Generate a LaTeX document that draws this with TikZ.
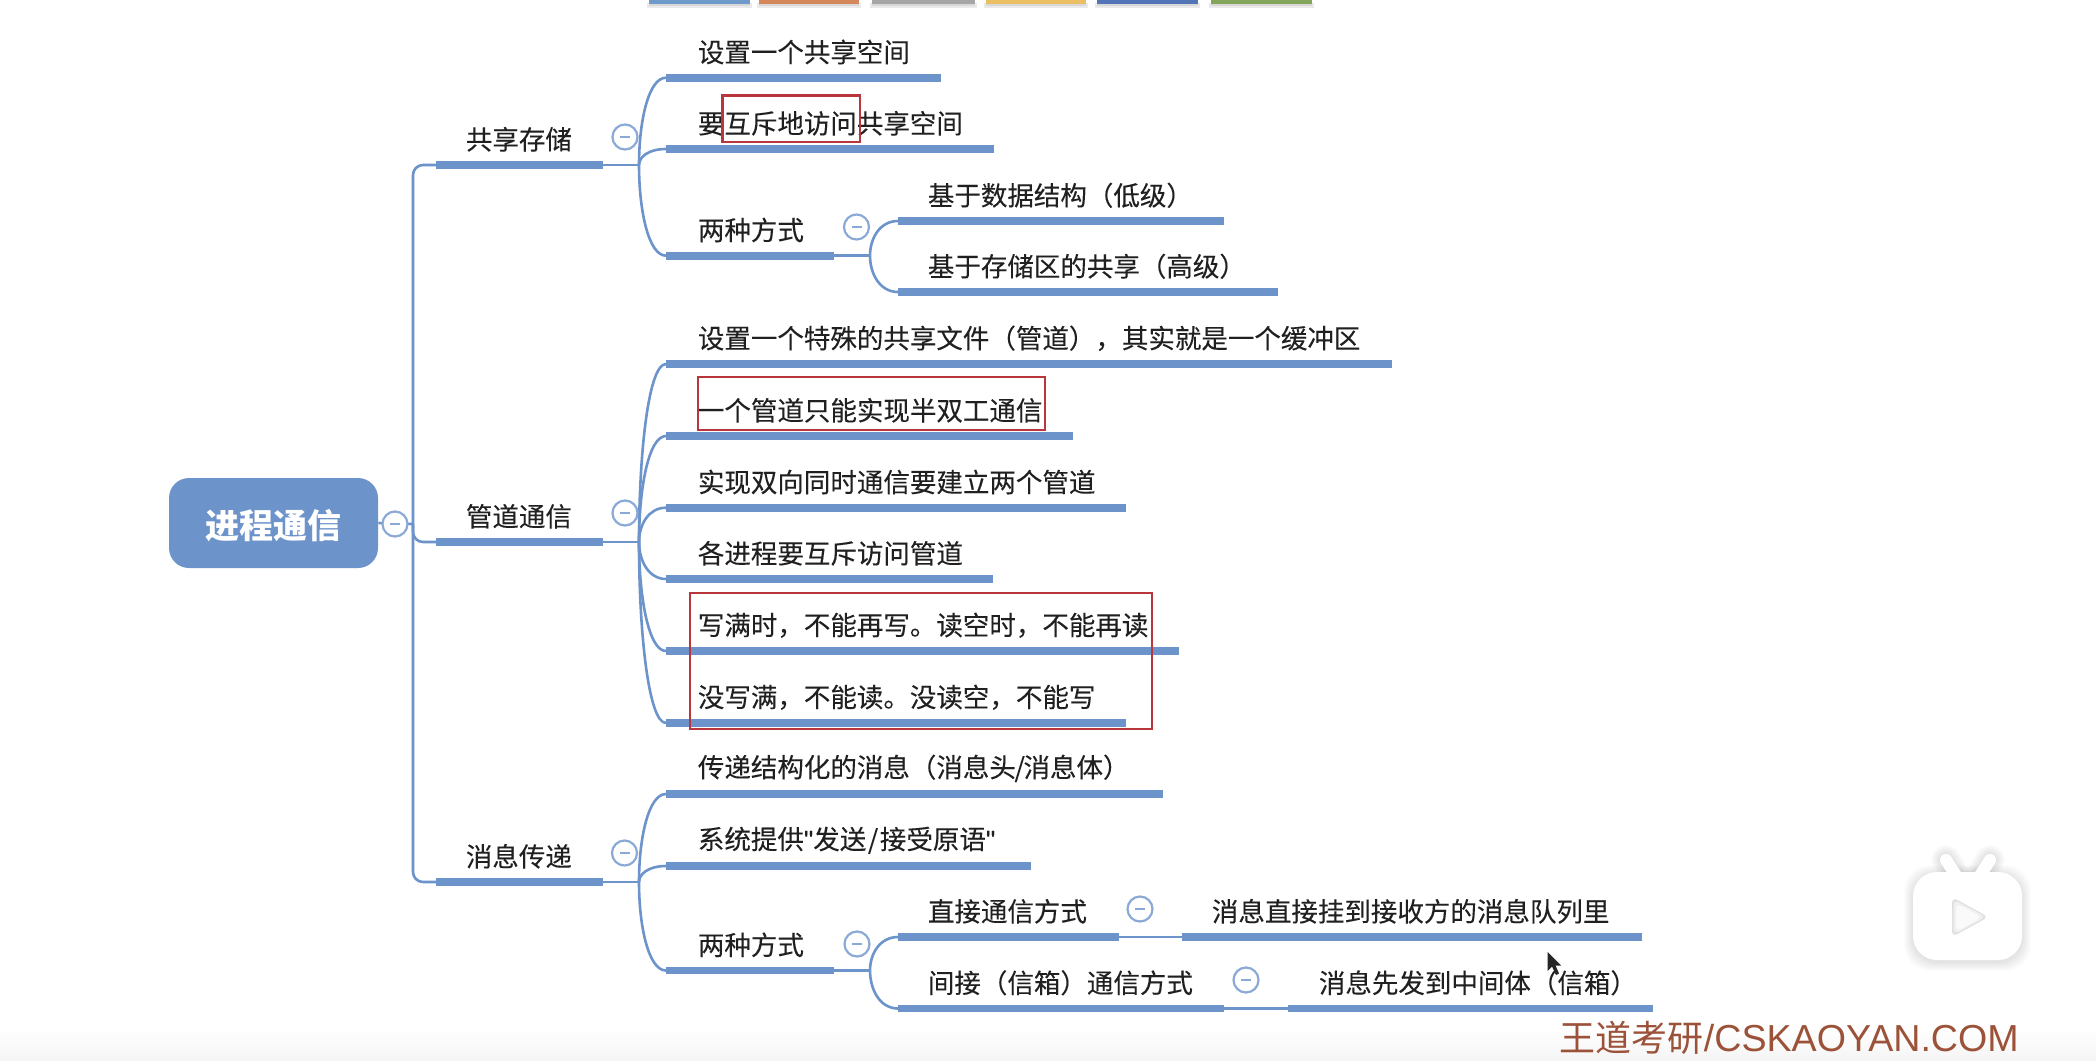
\documentclass[tikz,border=0pt]{standalone}
\usepackage{fontspec}
\setmainfont{Noto Sans CJK SC}
\newfontfamily\labelfont[FakeBold=0.12]{Noto Sans CJK SC}
\newfontfamily\latinfont{Liberation Sans}
\newfontfamily\labellatin[FakeBold=0.12]{Liberation Sans}
\usetikzlibrary{calc}
\definecolor{mapblue}{HTML}{6D93CB}
\definecolor{ringblue}{HTML}{8AA9D6}
\definecolor{markred}{HTML}{B9363C}
\definecolor{inkc}{HTML}{202020}
\definecolor{wmark}{HTML}{9C5238}
\tikzset{
  barline/.style={draw=mapblue,line width=3.9pt},
  link/.style={draw=mapblue,line width=1.3pt},
  topic/.style={anchor=west,inner sep=0pt,text=inkc,font=\labelfont\fontsize{13.25pt}{15pt}\selectfont},
  ring/.style={circle,draw=ringblue,fill=white,line width=1.1pt,minimum size=12.5pt,inner sep=0pt},
  markbox/.style={draw=markred,line width=1.4pt},
  stripshade/.style={fill=gray,opacity=.16},
}
% name, bar start, bar end, bar y, text x, text
\newcommand{\topicbar}[6]{%
  \coordinate (#1-l) at (#2,#4);
  \coordinate (#1-r) at (#3,#4);
  \draw[barline] (#1-l) -- (#1-r);
  \node[topic] (#1) at (#5-0.5,#4-25.7) {#6};
}
% junction, target bar
\newcommand{\branch}[2]{%
  \draw[link] (#1) .. controls ($(#1 |- #2-l)!0.5!(#1)$) and ($(#1 |- #2-l)!0.35!(#2-l)$) .. (#2-l);
}
\newcommand{\foldmark}[2]{%
  \node[ring] (#1) at (#2) {};
  \draw[draw=ringblue,line width=0.8pt] ($(#1)+(-5,0)$) -- ($(#1)+(5,0)$);
}
\begin{document}
\begin{tikzpicture}[x=0.5pt,y=-0.5pt]
\useasboundingbox (0,0) rectangle (2096,1060);
\fill[white] (0,0) rectangle (2096,1060);
\shade[top color=white,bottom color=black!4] (0,1028) rectangle (2096,1060);

% colour strip at the top edge
\foreach \xa/\xb/\c in {649/750/6F9BCB,759/859/D4875A,872/975/A6A6A6,986/1086/EBBF63,1097/1198/5474B8,1211/1312/84A55B}{
  \definecolor{stripc}{HTML}{\c}
  \fill[stripshade] (\xa-2,3) rectangle (\xb+2,8);
  \fill[stripshade] (\xa,3) rectangle (\xb,5.5);
  \fill[stripc] (\xa,0) rectangle (\xb,3.5);
}

% root
\node[fill=mapblue,rounded corners=10pt,minimum width=104.5pt,minimum height=45pt,inner sep=0pt,text=white,text height=20pt,text depth=4.4pt,font=\fontsize{17pt}{20pt}\selectfont\bfseries] (root) at (273.5,523) {进程通信};
\coordinate (rootj) at (413,524);

% first level
\topicbar{shm}{436}{603}{165}{466}{共享存储}
\topicbar{pipe}{436}{603}{542}{466}{管道通信}
\topicbar{msg}{436}{603}{882}{466}{消息传递}

% shared memory
\topicbar{s1}{666}{941}{77.7}{698}{设置一个共享空间}
\topicbar{s2}{666}{994}{149}{698}{要互斥地访问共享空间}
\topicbar{s3}{666}{834}{255.7}{698}{两种方式}
\topicbar{s31}{898}{1224}{221}{928}{基于数据结构（低级）}
\topicbar{s32}{898}{1278}{292}{928}{基于存储区的共享（高级）}

% pipe
\topicbar{p1}{666}{1391.5}{364}{698}{设置一个特殊的共享文件（管道），其实就是一个缓冲区}
\topicbar{p2}{666}{1073}{436}{698}{一个管道只能实现半双工通信}
\topicbar{p3}{666}{1125.5}{507.7}{698}{实现双向同时通信要建立两个管道}
\topicbar{p4}{666}{993}{579}{698}{各进程要互斥访问管道}
\topicbar{p5}{666}{1179}{651}{698}{写满时，不能再写。读空时，不能再读}
\topicbar{p6}{666}{1125.5}{723}{698}{没写满，不能读。没读空，不能写}

% message passing
\topicbar{m1}{666}{1163}{794}{698}{传递结构化的消息（消息头\kern-0.7pt/\kern-0.7pt 消息体）}
\topicbar{m2}{666}{1030.6}{866}{698}{系统提供{\labellatin "}发送\kern0.8pt/\kern0.8pt 接受原语{\labellatin "}}
\topicbar{m3}{666}{834}{970.5}{698}{两种方式}
\topicbar{m31}{898}{1119}{937}{928}{直接通信方式}
\topicbar{m311}{1182}{1641.5}{937}{1212}{消息直接挂到接收方的消息队列里}
\topicbar{m32}{898}{1224}{1008.5}{928}{间接（信箱）通信方式}
\topicbar{m321}{1288}{1653}{1008.5}{1319}{消息先发到中间体（信箱）}

% trunk
\draw[link] (root.east) -- (rootj);
\draw[link,rounded corners=5pt] (rootj) -- (rootj |- shm-l) -- (shm-l);
\draw[link,rounded corners=5pt] (rootj) -- (rootj |- pipe-l) -- (pipe-l);
\draw[link,rounded corners=5pt] (rootj) -- (rootj |- msg-l) -- (msg-l);

% shared memory branches
\coordinate (shmj) at ($(shm-r)+(36,0)$);
\draw[link] (shm-r) -- (shmj);
\branch{shmj}{s1}\branch{shmj}{s2}\branch{shmj}{s3}
\coordinate (s3j) at ($(s3-r)+(36,0)$);
\draw[link] (s3-r) -- (s3j);
\branch{s3j}{s31}\branch{s3j}{s32}

% pipe branches
\coordinate (pipej) at ($(pipe-r)+(36,0)$);
\draw[link] (pipe-r) -- (pipej);
\foreach \t in {p1,p2,p3,p4,p5,p6}{\branch{pipej}{\t}}

% message branches
\coordinate (msgj) at ($(msg-r)+(36,0)$);
\draw[link] (msg-r) -- (msgj);
\branch{msgj}{m1}\branch{msgj}{m2}\branch{msgj}{m3}
\coordinate (m3j) at ($(m3-r)+(36,0)$);
\draw[link] (m3-r) -- (m3j);
\branch{m3j}{m31}\branch{m3j}{m32}
\draw[link] (m31-r) -- (m311-l);
\draw[link] (m32-r) -- (m321-l);

% collapse marks
\foldmark{froot}{395,524}
\foldmark{fshm}{625,137}
\foldmark{fs3}{856.5,227}
\foldmark{fpipe}{625,513}
\foldmark{fmsg}{624.5,853}
\foldmark{fm3}{857,944}
\foldmark{fm31}{1140,909}
\foldmark{fm32}{1246,980}

% red marking boxes
\draw[markbox] (722.6,95.7) rectangle (860,142);
\draw[markbox] (698,377) rectangle (1045,430);
\draw[markbox] (690,593) rectangle (1152,729);

% player badge
\begin{scope}
  \foreach \g in {1,...,9}{
    \fill[black,opacity=.012,rounded corners=13pt] (1913-\g,872-\g+2) rectangle (2022+\g,960+\g+2);
    \draw[black,opacity=.01,line cap=round,line width=6pt+\g*1pt] (1946,860) -- (1957,877);
    \draw[black,opacity=.01,line cap=round,line width=6pt+\g*1pt] (1990,860) -- (1979,877);
  }
  \draw[white,line cap=round,line width=6pt] (1946,860) -- (1957,877);
  \draw[white,line cap=round,line width=6pt] (1990,860) -- (1979,877);
  \fill[white,rounded corners=12pt] (1913,872) rectangle (2022,960);
  \fill[black!12,rounded corners=3pt] (1952,897) -- (1988.5,917) -- (1952,937) -- cycle;
  \fill[black!6,rounded corners=3pt] (1953.5,899.5) -- (1986,917) -- (1953.5,934.5) -- cycle;
  \fill[black!2,rounded corners=3pt] (1956,903) -- (1982,917) -- (1956,932) -- cycle;
\end{scope}

% pointer
\fill[black!85] (1547.5,952) -- (1547.5,971) -- (1552,966.5) -- (1556,975) -- (1559,973.5) -- (1555.5,965.5) -- (1561,965.5) -- cycle;

% watermark
\node[anchor=west,inner sep=0pt,text=wmark,font=\fontsize{18pt}{20pt}\selectfont] (wm) at (1559.5,1038) {王道考研{\latinfont\fontsize{18.8pt}{20pt}\selectfont /CSKAOYAN.COM}};
\end{tikzpicture}
\end{document}
